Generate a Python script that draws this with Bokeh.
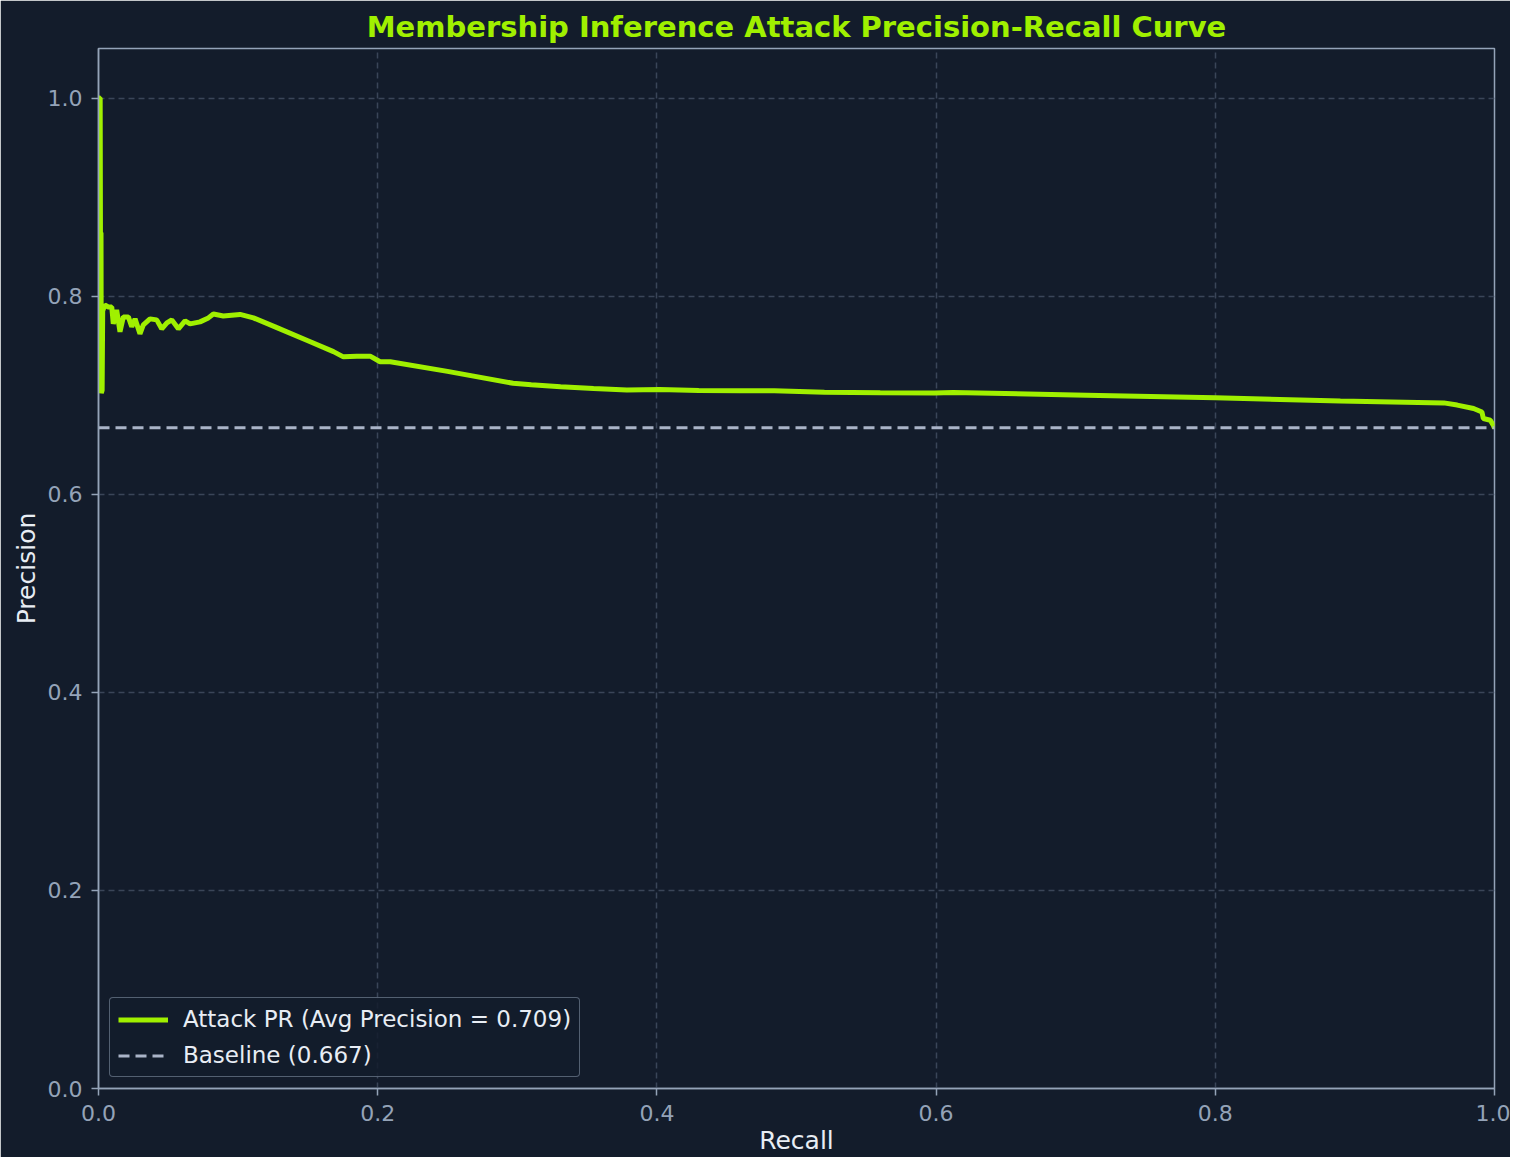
from bokeh.plotting import figure
from bokeh.models import FixedTicker, Legend, LegendItem, Range1d
from bokeh.embed import file_html
from bokeh.resources import INLINE

# ---- data ----
recall = [0.0, 0.0012, 0.0014, 0.0018, 0.0020, 0.0026, 0.0030, 0.0045, 0.0070, 0.0095,
          0.0106, 0.0130, 0.0154, 0.0178, 0.0214, 0.0238, 0.0262, 0.0297, 0.0321, 0.0369,
          0.0417, 0.0453, 0.0490, 0.0525, 0.0572, 0.0620, 0.0656, 0.0727, 0.0787, 0.0823,
          0.0894, 0.1014, 0.1110, 0.1265, 0.1500, 0.1683, 0.1754, 0.1850, 0.1946, 0.2017,
          0.2090, 0.2500, 0.2970, 0.3100, 0.3310, 0.3546, 0.3785, 0.4020, 0.4300, 0.4600,
          0.4840, 0.5200, 0.5600, 0.5990, 0.6120, 0.7077, 0.8000, 0.8896, 0.9637, 0.9733,
          0.9850, 0.9910, 0.9920, 0.9970, 0.9990, 1.0]
precision = [1.0, 1.0, 0.864, 0.864, 0.702, 0.705, 0.785, 0.791, 0.789, 0.789,
             0.772, 0.786, 0.764, 0.779, 0.779, 0.769, 0.777, 0.762, 0.771, 0.777,
             0.776, 0.767, 0.773, 0.776, 0.767, 0.775, 0.772, 0.774, 0.778, 0.782,
             0.780, 0.7815, 0.778, 0.769, 0.755, 0.744, 0.7387, 0.7394, 0.7394, 0.7337,
             0.7337, 0.7240, 0.7120, 0.7105, 0.7085, 0.7067, 0.7052, 0.7057, 0.7048, 0.7044,
             0.7044, 0.7030, 0.7025, 0.7023, 0.7027, 0.7000, 0.6973, 0.6942, 0.6922, 0.6900,
             0.6865, 0.6830, 0.6764, 0.6747, 0.6700, 0.6667]
baseline = 0.667
avg_precision = 0.709

x_ticks = [0.0, 0.2, 0.4, 0.6, 0.8, 1.0]
x_tick_labels = ["0.0", "0.2", "0.4", "0.6", "0.8", "1.0"]
y_ticks = [0.0, 0.2, 0.4, 0.6, 0.8, 1.0]
y_tick_labels = ["0.0", "0.2", "0.4", "0.6", "0.8", "1.0"]

title_text = "Membership Inference Attack Precision-Recall Curve"
x_label = "Recall"
y_label = "Precision"

# ---- styles ----
BG = "#131c2b"
LIME = "#a0f000"
SLATE = "#94a3b8"
GRID = "#3a4558"
BASE = "#aab4c8"
TXT = "#e8edf4"
FONT = "DejaVu Sans"

p = figure(width=1510, height=1157, output_backend="svg", toolbar_location=None,
           x_range=Range1d(0, 1), y_range=Range1d(0, 1.05),
           background_fill_color=BG, border_fill_color=BG,
           min_border_left=98, min_border_right=16, min_border_top=48,
           min_border_bottom=69)

p.title.text = title_text
p.title.align = "center"
p.title.text_font = FONT
p.title.text_font_size = "29px"
p.title.text_font_style = "bold"
p.title.text_color = LIME

p.outline_line_color = SLATE
p.outline_line_width = 1.5

for ax, ticks, labels in ((p.xaxis[0], x_ticks, x_tick_labels), (p.yaxis[0], y_ticks, y_tick_labels)):
    ax.ticker = FixedTicker(ticks=ticks)
    ax.major_label_overrides = {t: l for t, l in zip(ticks, labels)}
    ax.axis_line_color = SLATE
    ax.axis_line_width = 1.5
    ax.major_tick_line_color = SLATE
    ax.major_tick_line_width = 1.5
    ax.major_tick_out = 7
    ax.major_tick_in = 0
    ax.minor_tick_line_color = None
    ax.major_label_text_font = FONT
    ax.major_label_text_font_size = "22px"
    ax.major_label_text_color = SLATE
    ax.major_label_text_line_height = 1.0
    ax.axis_label_text_font = FONT
    ax.axis_label_text_font_size = "25px"
    ax.axis_label_text_font_style = "normal"
    ax.axis_label_text_color = TXT
    ax.axis_label_text_line_height = 1.0

p.xaxis.axis_label = x_label
p.yaxis.axis_label = y_label
p.xaxis.major_label_standoff = 9
p.yaxis.major_label_standoff = 9
p.xaxis.axis_label_standoff = 2
p.yaxis.axis_label_standoff = 4

for g in (p.xgrid[0], p.ygrid[0]):
    g.grid_line_color = GRID
    g.grid_line_width = 1.5
    g.grid_line_dash = "6 4"

r_curve = p.line(recall, precision, line_color=LIME, line_width=5)
r_base = p.line([recall[0], recall[-1]], [baseline, baseline], line_color=BASE,
                line_width=3, line_dash="11 6")

legend = Legend(items=[
    LegendItem(label=f"Attack PR (Avg Precision = {avg_precision:.3f})", renderers=[r_curve]),
    LegendItem(label=f"Baseline ({baseline:.3f})", renderers=[r_base]),
], location="bottom_left")
legend.margin = 11
legend.padding = 8
legend.spacing = 10
legend.glyph_width = 50
legend.glyph_height = 25
legend.label_height = 25
legend.label_standoff = 15
legend.label_text_font = FONT
legend.label_text_font_size = "23px"
legend.label_text_color = TXT
legend.background_fill_color = BG
legend.background_fill_alpha = 0.85
legend.border_line_color = SLATE
legend.border_line_width = 1.5
legend.border_radius = 4
p.add_layout(legend)

open("out.html", "w").write(file_html(p, INLINE))
